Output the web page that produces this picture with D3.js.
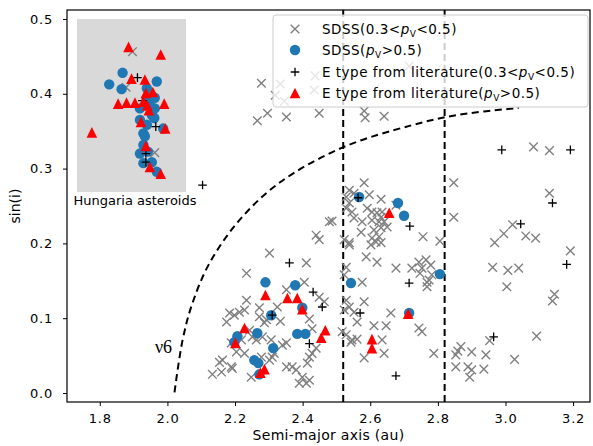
<!DOCTYPE html>
<html>
<head>
<meta charset="utf-8">
<script src="https://cdn.jsdelivr.net/npm/d3@7"></script>
<style>
  body { margin: 0; background: #fff; }
  svg { display: block; }
</style>
</head>
<body>
<div id="chart"></div>
<script>
// [a (au), sin(i)]
const sdssMid = [
  [2.278,0.414],[2.334,0.413],[2.319,0.398],[2.346,0.390],[2.434,0.405],[2.437,0.424],[2.296,0.374],[2.266,0.364],
  [2.352,0.369],[2.449,0.374],[2.582,0.377],[2.585,0.368],[2.641,0.370],[2.715,0.437],
  [3.083,0.329],[3.130,0.324],[2.847,0.281],[3.130,0.267],[2.847,0.235],[3.021,0.225],[2.995,0.213],[2.968,0.201],
  [3.060,0.210],[3.089,0.207],[3.192,0.190],[2.756,0.209],[2.806,0.203],[2.765,0.178],[2.779,0.171],[2.753,0.167],
  [2.774,0.151],[2.768,0.142],[2.962,0.168],[3.007,0.164],[3.039,0.167],[3.004,0.142],[3.145,0.132],[3.139,0.123],
  [2.753,0.082],[2.953,0.070],[3.092,0.076],[2.788,0.053],[2.853,0.051],[2.868,0.062],[2.859,0.056],[2.900,0.055],
  [2.942,0.051],[2.853,0.035],[2.889,0.035],[2.900,0.031],[2.936,0.032],[2.894,0.021],[3.027,0.045],
  [2.582,0.281],[2.538,0.271],[2.552,0.267],[2.597,0.265],[2.529,0.262],[2.632,0.259],[2.538,0.254],[2.529,0.247],
  [2.546,0.242],[2.591,0.247],[2.605,0.242],[2.620,0.241],[2.632,0.235],[2.635,0.242],[2.487,0.230],[2.552,0.234],
  [2.576,0.229],[2.605,0.231],[2.626,0.229],[2.641,0.229],[2.650,0.222],[2.632,0.221],[2.611,0.218],[2.676,0.251],
  [2.573,0.215],[2.605,0.207],[2.626,0.209],[2.602,0.198],[2.617,0.202],[2.632,0.201],[2.538,0.198],[2.588,0.182],
  [2.620,0.175],[2.676,0.167],[2.529,0.168],[2.744,0.175],[2.723,0.167],
  [2.523,0.158],[2.576,0.148],[2.529,0.124],[2.582,0.122],[2.552,0.108],[2.561,0.095],[2.661,0.107],[2.611,0.090],
  [2.647,0.090],[2.517,0.082],[2.546,0.071],[2.561,0.072],[2.635,0.071],[2.641,0.053],[2.582,0.047],[2.744,0.087],
  [2.747,0.160],[2.768,0.148],[2.782,0.158],
  [2.479,0.229],[2.440,0.211],[2.449,0.205],[2.302,0.187],[2.411,0.174],[2.234,0.160],[2.405,0.148],[2.352,0.138],
  [2.234,0.124],[2.449,0.128],[2.464,0.122],[2.228,0.111],[2.213,0.108],[2.198,0.104],[2.272,0.114],[2.325,0.115],
  [2.272,0.102],[2.293,0.098],[2.334,0.096],[2.420,0.099],[2.428,0.086],[2.243,0.084],[2.251,0.075],[2.281,0.075],
  [2.219,0.071],[2.340,0.064],[2.352,0.067],[2.307,0.071],[2.440,0.060],[2.428,0.053],[2.420,0.048],[2.163,0.044],
  [2.189,0.035],[2.133,0.025],[2.160,0.028],[2.204,0.055],[2.302,0.044],[2.310,0.048],[2.352,0.035],[2.369,0.035],
  [2.381,0.031],[2.399,0.021],[2.411,0.013],[2.390,0.013],[2.420,0.017],[2.316,0.053],[2.248,0.021],[2.523,0.111],
  [2.529,0.078],[2.543,0.068],[2.538,0.115],[2.523,0.205],[2.538,0.201],[2.184,0.107],[2.175,0.095],[2.287,0.094],
  [2.189,0.067],[2.263,0.071],[2.228,0.053],[2.154,0.041],[2.192,0.033],[2.278,0.048],[2.414,0.040]
];
const sdssHigh = [
  [2.290,0.148],[2.378,0.144],[2.399,0.114],[2.307,0.104],[2.266,0.080],[2.207,0.076],[2.198,0.068],[2.313,0.060],
  [2.384,0.079],[2.408,0.079],[2.257,0.044],[2.269,0.040],[2.272,0.025],[2.567,0.262],[2.682,0.254],[2.700,0.237],
  [2.806,0.159],[2.543,0.147],[2.715,0.107]
];
const litMid = [
  [2.361,0.174],[2.431,0.135],[2.458,0.115],[2.310,0.104],[2.420,0.066],[2.564,0.261],[2.717,0.223],[2.715,0.147],
  [2.570,0.107],[2.676,0.023],[2.989,0.325],[3.192,0.325],[3.139,0.254],[3.045,0.226],[3.181,0.172],[2.965,0.075],
  [2.104,0.278]
];
const litHigh = [
  [2.290,0.131],[2.355,0.127],[2.384,0.127],[2.399,0.112],[2.228,0.087],[2.201,0.067],[2.467,0.084],[2.455,0.074],
  [2.287,0.032],[2.275,0.027],[2.656,0.241],[2.605,0.072],[2.605,0.060],[2.712,0.106]
];

// Hungaria inset
const hunSdssMid = [[1.892,0.426],[1.879,0.389],[1.937,0.321]];
const hunSdssHigh = [
  [1.872,0.404],[1.845,0.392],[1.870,0.387],[1.941,0.395],[1.921,0.388],[1.937,0.378],[1.907,0.367],[1.937,0.367],
  [1.931,0.360],[1.936,0.357],[1.907,0.355],[1.921,0.350],[1.914,0.341],[1.917,0.338],[1.954,0.346],[1.914,0.329],
  [1.907,0.320],[1.923,0.322],[1.914,0.310],[1.931,0.311],[1.941,0.301],[1.927,0.371],[1.923,0.378]
];
const hunLitMid = [[1.902,0.399],[1.912,0.375],[1.939,0.348],[1.919,0.320],[1.919,0.311]];
const hunLitHigh = [
  [1.884,0.431],[1.949,0.423],[1.890,0.398],[1.917,0.397],[1.919,0.383],[1.933,0.384],[1.863,0.372],[1.880,0.373],
  [1.897,0.373],[1.914,0.374],[1.922,0.370],[1.925,0.365],[1.956,0.372],[1.909,0.353],[1.958,0.346],[1.810,0.342],
  [1.919,0.328],[1.927,0.306],[1.949,0.299]
];

// nu6 secular resonance, traced
const nu6 = [
  [2.021,0.001],[2.045,0.071],[2.074,0.120],[2.125,0.174],[2.213,0.231],[2.331,0.281],[2.517,0.328],
  [2.723,0.358],[2.862,0.372],[3.039,0.381]
];
const gaps = [2.52, 2.82];

const xTicks = [1.8, 2.0, 2.2, 2.4, 2.6, 2.8, 3.0, 3.2];
const yTicks = [0.0, 0.1, 0.2, 0.3, 0.4, 0.5];
const legendLabels = [
  ["SDSS(0.3<", "p", "V", "<0.5)"],
  ["SDSS(", "p", "V", ">0.5)"],
  ["E type from literature(0.3<", "p", "V", "<0.5)"],
  ["E type from literature(", "p", "V", ">0.5)"]
];

const W = 593, H = 446;
const margin = { top: 10, right: 3, bottom: 44, left: 67 };
const font = "'DejaVu Sans', sans-serif";

const svg = d3.select("#chart").append("svg")
  .attr("width", W).attr("height", H)
  .style("font-family", font);

const x = d3.scaleLinear().domain([1.703, 3.25]).range([margin.left, W - margin.right]);
const y = d3.scaleLinear().domain([-0.012, 0.512]).range([H - margin.bottom, margin.top]);

const xi = d3.scaleLinear().domain([1.78, 2.00]).range([77, 186]);
const yi = d3.scaleLinear().domain([0.28, 0.46]).range([192, 19]);

const crossPath = "M-4.3,-4.3L4.3,4.3M-4.3,4.3L4.3,-4.3";
const plusPath = "M-4.3,0H4.3M0,-4.3V4.3";
const triPath = "M0,-5.3L5.3,5.3L-5.3,5.3Z";

function drawSeries(g, sx, sy, mid, high, lmid, lhigh) {
  g.append("g").selectAll("path").data(mid).join("path")
    .attr("transform", d => `translate(${sx(d[0])},${sy(d[1])})`)
    .attr("d", crossPath).attr("stroke", "#808080").attr("stroke-width", 1.4).attr("fill", "none");
  g.append("g").selectAll("circle").data(high).join("circle")
    .attr("cx", d => sx(d[0])).attr("cy", d => sy(d[1])).attr("r", 5.2)
    .attr("fill", "#1f77b4");
  g.append("g").selectAll("path").data(lmid).join("path")
    .attr("transform", d => `translate(${sx(d[0])},${sy(d[1])})`)
    .attr("d", plusPath).attr("stroke", "#000").attr("stroke-width", 1.3).attr("fill", "none");
  g.append("g").selectAll("path").data(lhigh).join("path")
    .attr("transform", d => `translate(${sx(d[0])},${sy(d[1])})`)
    .attr("d", triPath).attr("fill", "#ff0000");
}

const plot = svg.append("g");

// gap lines
plot.selectAll(".gap").data(gaps).join("line")
  .attr("x1", d => x(d)).attr("x2", d => x(d))
  .attr("y1", y.range()[0]).attr("y2", y.range()[1])
  .attr("stroke", "#000").attr("stroke-width", 2).attr("stroke-dasharray", "7,4");

// nu6
plot.append("path").datum(nu6)
  .attr("d", d3.line().x(d => x(d[0])).y(d => y(d[1])).curve(d3.curveCatmullRom))
  .attr("fill", "none").attr("stroke", "#000").attr("stroke-width", 2).attr("stroke-dasharray", "7,4.5");

plot.append("text")
  .attr("x", x(1.963)).attr("y", y(0.053))
  .attr("font-family", "'Liberation Serif', serif")
  .attr("font-size", 18).text("ν6");

drawSeries(plot, x, y, sdssMid, sdssHigh, litMid, litHigh);

// inset
const inset = svg.append("g");
inset.append("rect")
  .attr("x", xi.range()[0]).attr("y", yi.range()[1])
  .attr("width", xi.range()[1] - xi.range()[0]).attr("height", yi.range()[0] - yi.range()[1])
  .attr("fill", "#d9d9d9");
drawSeries(inset, xi, yi, hunSdssMid, hunSdssHigh, hunLitMid, hunLitHigh);
inset.append("text")
  .attr("x", 135).attr("y", 205)
  .attr("text-anchor", "middle").attr("font-size", 13).text("Hungaria asteroids");

// axes
const xAxis = svg.append("g")
  .attr("transform", `translate(0,${H - margin.bottom})`)
  .call(d3.axisBottom(x).tickValues(xTicks).tickFormat(d3.format(".1f")).tickSize(4).tickSizeOuter(0));
const yAxis = svg.append("g")
  .attr("transform", `translate(${margin.left},0)`)
  .call(d3.axisLeft(y).tickValues(yTicks).tickFormat(d3.format(".1f")).tickSize(4).tickSizeOuter(0));
[xAxis, yAxis].forEach(a => {
  a.selectAll("text").attr("font-size", 13).attr("font-family", font).attr("fill", "#000")
    .style("letter-spacing", "0.8px");
  a.select(".domain").remove();
  a.selectAll(".tick line").attr("stroke", "#000").attr("stroke-width", 1);
});
xAxis.selectAll("text").attr("dy", "1.05em");
yAxis.selectAll("text").attr("x", -14);

svg.append("rect")
  .attr("x", margin.left).attr("y", margin.top)
  .attr("width", W - margin.left - margin.right).attr("height", H - margin.top - margin.bottom)
  .attr("fill", "none").attr("stroke", "#000").attr("stroke-width", 1.2);

svg.append("text")
  .attr("x", (x.range()[0] + x.range()[1]) / 2).attr("y", 440)
  .attr("text-anchor", "middle").attr("font-size", 14).style("letter-spacing", "0.3px")
  .text("Semi-major axis (au)");
svg.append("text")
  .attr("transform", `translate(20,${(y.range()[0] + y.range()[1]) / 2}) rotate(-90)`)
  .attr("text-anchor", "middle").attr("font-size", 14).text("sin(i)");

// legend
const lg = svg.append("g").attr("transform", "translate(273,15)");
lg.append("rect").attr("width", 315).attr("height", 92).attr("rx", 3)
  .attr("fill", "#fff").attr("fill-opacity", 0.8).attr("stroke", "#cccccc");
const rowY = [14, 35, 57, 78];
lg.append("path").attr("transform", `translate(22,${rowY[0]})`).attr("d", crossPath)
  .attr("stroke", "#808080").attr("stroke-width", 1.4);
lg.append("circle").attr("cx", 22).attr("cy", rowY[1]).attr("r", 5.2).attr("fill", "#1f77b4");
lg.append("path").attr("transform", `translate(22,${rowY[2]})`).attr("d", plusPath)
  .attr("stroke", "#000").attr("stroke-width", 1.3);
lg.append("path").attr("transform", `translate(22,${rowY[3]})`).attr("d", triPath).attr("fill", "#ff0000");

legendLabels.forEach((parts, i) => {
  const t = lg.append("text").attr("x", 49).attr("y", rowY[i] + 5).attr("font-size", 13.5)
    .style("letter-spacing", "0.5px");
  t.append("tspan").text(parts[0]);
  t.append("tspan").attr("font-style", "italic").text(parts[1]);
  t.append("tspan").attr("font-size", 9).attr("dy", 3).text(parts[2]);
  t.append("tspan").attr("dy", -3).text(parts[3]);
});
</script>
</body>
</html>
